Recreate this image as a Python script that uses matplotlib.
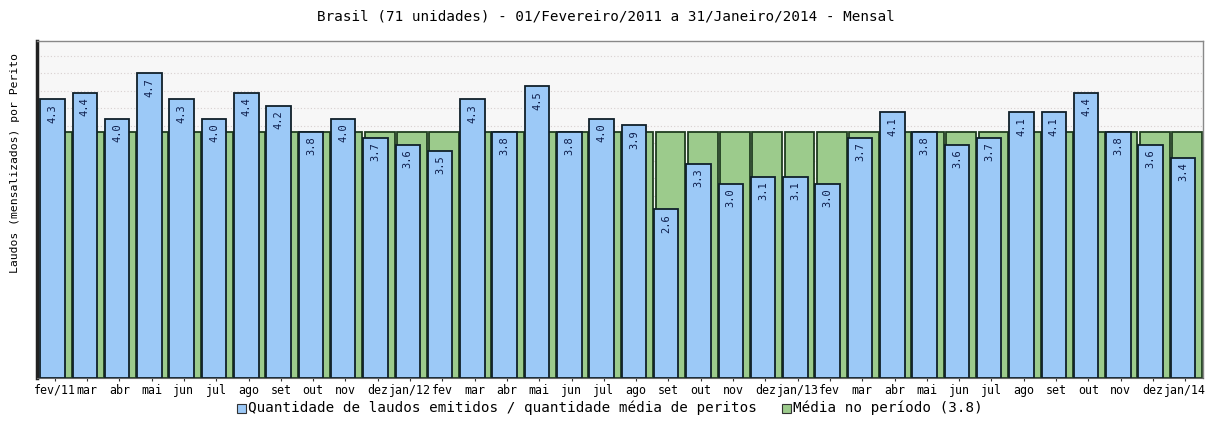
import matplotlib
matplotlib.use("Agg")
import matplotlib.pyplot as plt
import numpy as np
from matplotlib.patches import Rectangle

# Monthly values (laudos per perito), Feb/2011 .. Jan/2014
months = ["fev/11", "mar", "abr", "mai", "jun", "jul", "ago", "set", "out", "nov", "dez",
          "jan/12", "fev", "mar", "abr", "mai", "jun", "jul", "ago", "set", "out", "nov", "dez",
          "jan/13", "fev", "mar", "abr", "mai", "jun", "jul", "ago", "set", "out", "nov", "dez",
          "jan/14"]
values = [4.3, 4.4, 4.0, 4.7, 4.3, 4.0, 4.4, 4.2, 3.8, 4.0, 3.7,
          3.6, 3.5, 4.3, 3.8, 4.5, 3.8, 4.0, 3.9, 2.6, 3.3, 3.0, 3.1,
          3.1, 3.0, 3.7, 4.1, 3.8, 3.6, 3.7, 4.1, 4.1, 4.4, 3.8, 3.6,
          3.4]
media = 3.8

title = "Brasil (71 unidades) - 01/Fevereiro/2011 a 31/Janeiro/2014 - Mensal"
ylabel = "Laudos (mensalizados) por Perito"
legend_labels = ["Quantidade de laudos emitidos / quantidade média de peritos",
                 "Média no período (3.8)"]

blue = "#9cc9f7"
green = "#9ccb8c"
mono = "DejaVu Sans Mono"

fig = plt.figure(figsize=(12.09, 4.23), dpi=100)
ax = fig.add_axes([37 / 1209, 45 / 423, 1166 / 1209, 337 / 423])
ax.set_facecolor("#f7f7f7")

x = np.arange(len(values))

# average series sits behind, shifted right so it shows between the bars
ax.bar(x + 0.06, [media] * len(x), width=0.92, color=green,
       edgecolor="#1f3d1f", linewidth=1.3, zorder=2)
ax.bar(x - 0.07, values, width=0.76, color=blue,
       edgecolor="#10202a", linewidth=1.3, zorder=3)

for xi, v in zip(x, values):
    ax.text(xi - 0.07, v - 0.07, f"{v:.1f}", rotation=90, ha="center", va="top",
            fontsize=7.5, family=mono, color="#0c1c4a", zorder=4)

ax.set_xlim(-0.55, len(values) - 0.45)
ax.set_ylim(0, 5.2)

# faint horizontal guide lines
ax.set_yticks(np.arange(4.97, 0, -0.27))
ax.yaxis.grid(True, color="#d8d0d0", linestyle=(0, (1, 2)), linewidth=0.8, zorder=0)
ax.set_axisbelow(True)
ax.tick_params(axis="y", left=False, labelleft=False)

ax.set_xticks(x)
ax.set_xticklabels(months, family=mono, fontsize=8.4)
ax.tick_params(axis="x", length=2, pad=2, color="#333333")

for side in ["top", "right"]:
    ax.spines[side].set_color("#888888")
    ax.spines[side].set_linewidth(1.0)
ax.spines["left"].set_color("#222222")
ax.spines["left"].set_linewidth(2.5)
ax.spines["bottom"].set_color("#666666")
ax.spines["bottom"].set_linewidth(0.8)

fig.text(606 / 1209, 1 - 16 / 423, title, ha="center", va="center",
         family=mono, fontsize=10.3)
fig.text(15 / 1209, 1 - 163 / 423, ylabel, ha="center", va="center",
         rotation=90, family=mono, fontsize=8.2)

# legend row under the axis labels
for lx, color, label in [(237, blue, legend_labels[0]), (782, green, legend_labels[1])]:
    fig.patches.append(Rectangle((lx / 1209, 1 - 413 / 423), 9 / 1209, 9 / 423,
                                 transform=fig.transFigure, facecolor=color,
                                 edgecolor="#333333", linewidth=0.8))
    fig.text((lx + 11) / 1209, 1 - 408 / 423, label, ha="left", va="center",
             family=mono, fontsize=10.3)

fig.savefig("out.png", dpi=100)
